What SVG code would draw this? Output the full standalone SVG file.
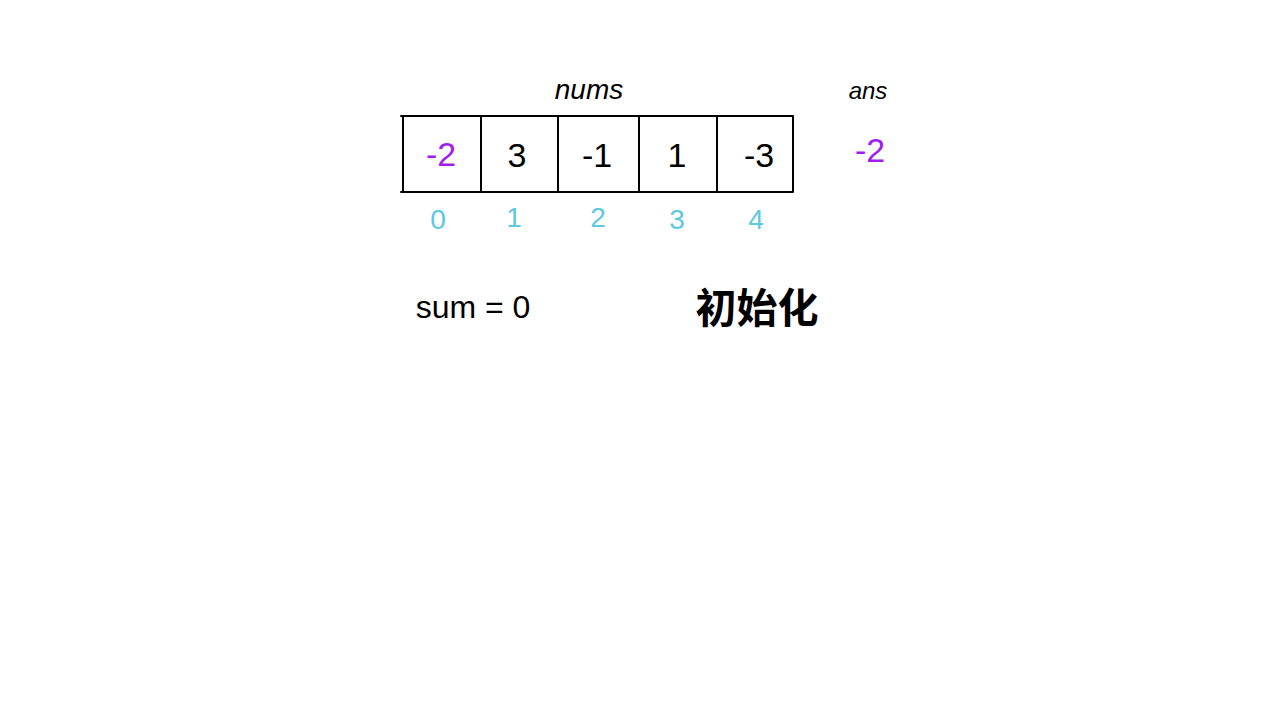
<svg xmlns="http://www.w3.org/2000/svg" width="1280" height="720" viewBox="0 0 1280 720">
<style>
.ln{stroke:#000;stroke-width:2;fill:none;stroke-linecap:round}
.t{font-family:"Liberation Sans","Noto Sans CJK SC",sans-serif;fill:#000;text-anchor:middle}
.v{font-size:34px}
.i{font-size:28px;fill:#5cc8e2}
.p{fill:#a01cf2}
</style>
<rect width="1280" height="720" fill="#fff"/>
<g id="labels">
<text class="t" x="589" y="99" font-size="28" font-style="italic">nums</text>
<text class="t" x="868" y="99" font-size="24" font-style="italic">ans</text>
<text class="t p" x="870" y="162" font-size="34">-2</text>
</g>
<g id="grid">
<path class="ln" d="M401 116 H793 M401 192 H793 M403 116 V192 M481 116 V192 M558 116 V192 M639 116 V192 M717 116 V192 M793 116 V192"/>
</g>
<g id="cells">
<text class="t v p" x="441" y="166">-2</text>
<text class="t v" x="517" y="167">3</text>
<text class="t v" x="597" y="167">-1</text>
<text class="t v" x="677" y="167">1</text>
<text class="t v" x="759" y="167">-3</text>
</g>
<g id="indices">
<text class="t i" x="438" y="229">0</text>
<text class="t i" x="514" y="227">1</text>
<text class="t i" x="598" y="227">2</text>
<text class="t i" x="677" y="229">3</text>
<text class="t i" x="756" y="229">4</text>
</g>
<g id="notes">
<text class="t" x="473" y="318" font-size="32">sum = 0</text>
<text class="t" x="757" y="323" font-size="41" font-weight="bold">初始化</text>
</g>
</svg>
